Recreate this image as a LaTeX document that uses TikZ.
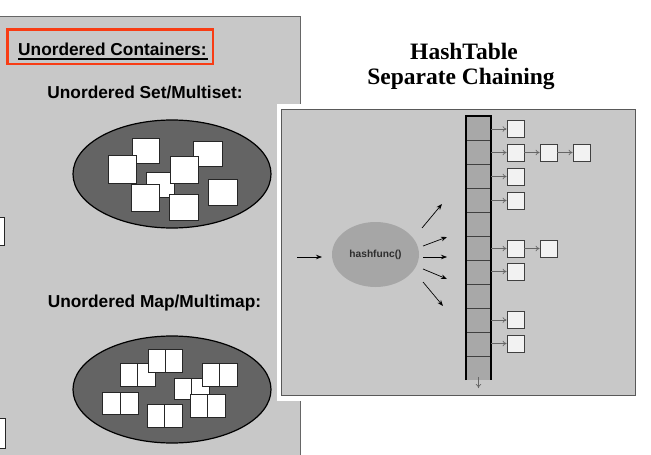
\documentclass[tikz,border=0pt]{standalone}
\usepackage{fontspec}
\setmainfont{Liberation Serif}
\setsansfont{Liberation Sans}
\usetikzlibrary{arrows.meta,shapes.geometric}
\definecolor{panel}{RGB}{200,200,200}
\definecolor{darkell}{RGB}{100,100,100}
\definecolor{hashell}{RGB}{166,166,166}
\definecolor{cellfill}{RGB}{168,168,168}
\definecolor{redbox}{RGB}{248,60,20}
\definecolor{boxfill}{RGB}{242,242,242}
\definecolor{htext}{RGB}{45,45,45}
\newcommand\kvpair[4]{%
  \draw[sq] (#1,#2) rectangle (#3,#4);
  \draw[sq] ({(#1+#3)/2},#2) -- ({(#1+#3)/2},#4);}
\begin{document}
\begin{tikzpicture}[x=1pt,y=-1pt,
  sq/.style={fill=white,draw=black!85,line width=0.8pt},
  lbl/.style={font=\sffamily\bfseries\fontsize{17.3}{20}\selectfont,inner sep=0pt,anchor=base},
  ttl/.style={font=\rmfamily\bfseries\fontsize{23.5}{28}\selectfont,inner sep=0pt,anchor=base},
  cell/.style={rectangle,fill=cellfill,minimum width=25pt,minimum height=24pt,inner sep=0pt},
  sep/.style={draw=black!75,line width=0.8pt},
  cbox/.style={rectangle,fill=boxfill,draw=black!75,line width=0.8pt,minimum size=17pt,inner sep=0pt},
  chain/.style={draw=black!60,line width=0.7pt,-{To[length=4pt,width=5.5pt]}},
  fan/.style={draw=black,line width=0.7pt,-{Stealth[length=6pt,width=4.5pt]}},
  bigell/.style={fill=darkell,draw=black,line width=1.2pt}
]
\useasboundingbox (0,0) rectangle (651,455);
\begin{scope}
\clip (0,0) rectangle (651,455);
% left panel
\fill[panel] (-5,16) rectangle (300,460);
\draw[black!60,line width=1pt] (-5,16) -- (300,16) -- (300,460);
% title box
\draw[redbox,line width=2.2pt] (7.5,29.5) rectangle (213,64);
\node[lbl,anchor=base west] (uc) at (18,55) {Unordered Containers:};
\draw[line width=2pt] (18,58.5) -- (208,58.5);
\node[lbl] (us) at (145,98.5) {Unordered Set/Multiset:};
\node[lbl] (um) at (154.5,307.5) {Unordered Map/Multimap:};
% partial boxes at left edge
\draw[sq] (-5,217) rectangle (4,245);
\draw[sq] (-5,418) rectangle (5,448);
% set ellipse
\draw[bigell] (172,174) ellipse [x radius=99, y radius=54];
\draw[sq] (132,138) rectangle (159,163);
\draw[sq] (193,141) rectangle (222,166);
\draw[sq] (146,172) rectangle (174,197);
\draw[sq] (108,155) rectangle (136,183);
\draw[sq] (170,156) rectangle (198,183);
\draw[sq] (131,184) rectangle (159,211);
\draw[sq] (208,179) rectangle (237,205);
\draw[sq] (169,194) rectangle (198,220);
% map ellipse
\draw[bigell] (172,389.5) ellipse [x radius=99, y radius=53.5];
\kvpair{120}{363}{155}{386}
\kvpair{148}{349}{182}{372}
\kvpair{174}{378}{209}{399}
\kvpair{202}{363}{237}{386}
\kvpair{190}{394}{225}{417}
\kvpair{102}{392}{138}{414}
\kvpair{147}{404}{182}{427}
% right panel
\fill[white] (277,104) rectangle (641,401);
\draw[fill=panel,draw=black!65,line width=1pt] (281,109) rectangle (635,395);
\end{scope}
% title
\node[ttl] (t1) at (464,59) {HashTable};
\node[ttl] (t2) at (461,84) {Separate Chaining};
% hash function
\node[ellipse,fill=hashell,minimum width=87pt,minimum height=65pt,inner sep=0pt,
  font=\sffamily\bfseries\fontsize{10.2}{12}\selectfont,text=htext] (h) at (375.5,254.5) {hashfunc()};
\coordinate (in0) at (297,257);
\coordinate (in1) at (322,257);
\draw[fan] (in0) -- (in1);
\coordinate (o1a) at (422,228); \coordinate (o1b) at (442,204);
\coordinate (o2a) at (423,246); \coordinate (o2b) at (447,237);
\coordinate (o3a) at (423,257); \coordinate (o3b) at (447,257);
\coordinate (o4a) at (423,269); \coordinate (o4b) at (447,279);
\coordinate (o5a) at (423,282); \coordinate (o5b) at (443,306);
\foreach \i in {1,...,5} {\draw[fan] (o\i a) -- (o\i b);}
% buckets
\foreach \i in {0,...,10} {\node[cell] (c\i) at (478.5,{128+24*\i}) {};}
\foreach \i in {0,...,9} {\draw[sep] (c\i.south west) -- (c\i.south east);}
\draw[line width=2.6pt] (466,380) -- (466,116) -- (491,116) -- (491,380);
\coordinate (bend) at (478.5,388);
\draw[chain] (478.5,377) -- (bend);
% chain boxes
\node[cbox] (b0) at (515.5,129) {};
\node[cbox] (b1) at (515.5,152.5) {};
\node[cbox] (b1b) at (548.5,152.5) {};
\node[cbox] (b1c) at (581.5,152.5) {};
\node[cbox] (b2) at (515.5,176.5) {};
\node[cbox] (b3) at (515.5,200.5) {};
\node[cbox] (b5) at (515.5,248.5) {};
\node[cbox] (b5b) at (548.5,248.5) {};
\node[cbox] (b6) at (515.5,271.5) {};
\node[cbox] (b8) at (515.5,320) {};
\node[cbox] (b9) at (515.5,343.5) {};
\foreach \i in {0,1,2,3,5,6,8,9} {\draw[chain] (b\i.west -| c\i.east) -- (b\i.west);}
\draw[chain] (b1.east) -- (b1b.west);
\draw[chain] (b1b.east) -- (b1c.west);
\draw[chain] (b5.east) -- (b5b.west);
\end{tikzpicture}
\end{document}
